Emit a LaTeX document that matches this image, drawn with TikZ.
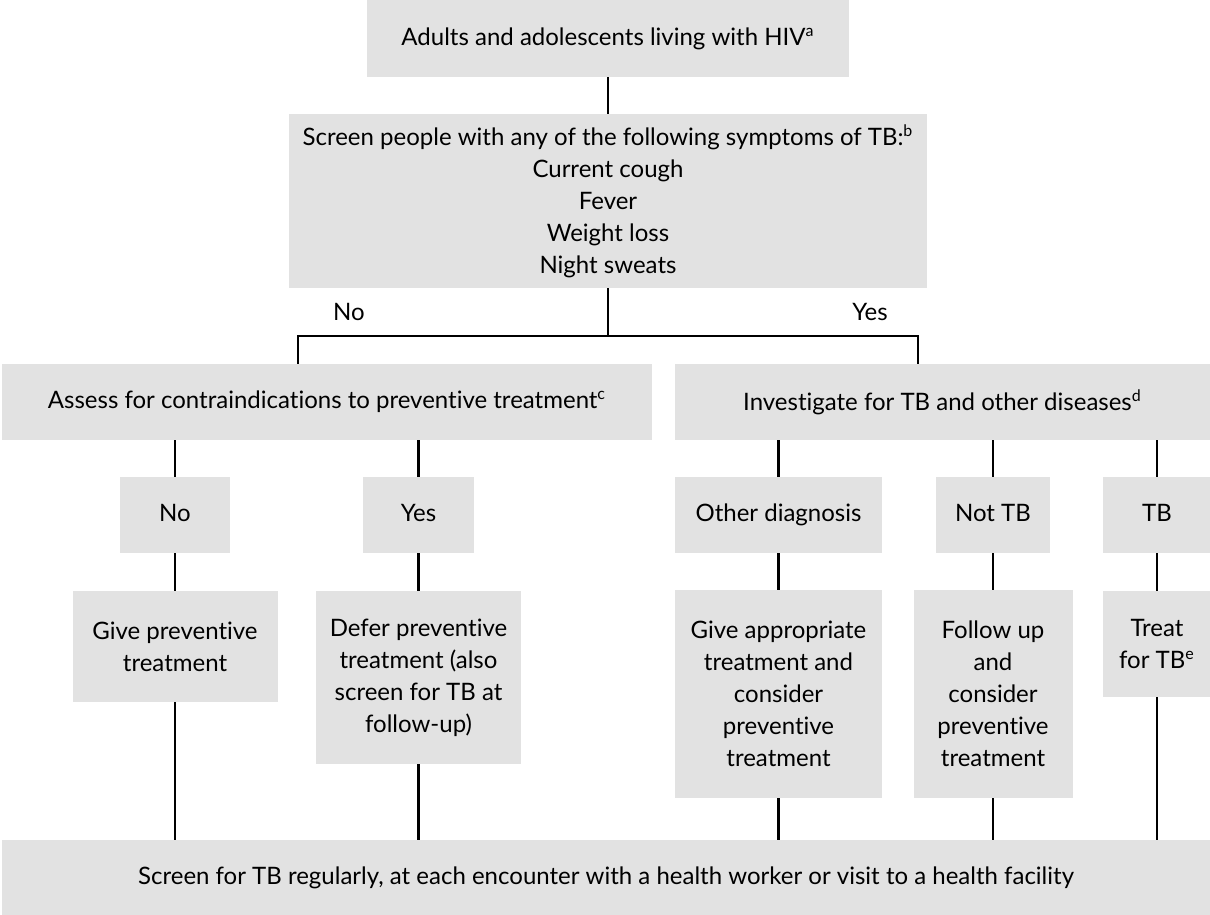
\documentclass[tikz,border=0pt]{standalone}
\usepackage{fontspec}
\setmainfont{Lato}[Ligatures=NoCommon]
\definecolor{boxgray}{RGB}{226,226,226}
\newcommand\bx[6]{\node[box, minimum width=#4*0.5pt, minimum height=#5*0.5pt] (#1) at (#2,#3) {#6};}
\newcommand\linestrut{\vphantom{Ng}}
\begin{document}
\begin{tikzpicture}[x=0.5pt,y=-0.5pt,
  box/.style={fill=boxgray, inner sep=0pt, align=center, text=black,
    font=\fontsize{12pt}{16pt}\selectfont},
  lbl/.style={inner sep=0pt, font=\fontsize{12pt}{16pt}\selectfont},
  conn/.style={draw=black, line width=1.1pt}]
\useasboundingbox (0,0) rectangle (1210,915);
% boxes
\bx{top}{608}{38.5}{482}{77}{\linestrut Adults and adolescents living with HIV\textsuperscript{a}}
\bx{screen}{608}{201}{638}{174}{Screen people with any of the following symptoms of TB:\textsuperscript{b}\\Current cough\\Fever\\Weight loss\\Night sweats}
\bx{assess}{327}{402}{650}{76}{\linestrut Assess for contraindications to preventive treatment\textsuperscript{c}}
\bx{inv}{942.5}{402}{535}{76}{\linestrut Investigate for TB and other diseases\textsuperscript{d}}
\bx{nobox}{175}{515}{110}{76}{\linestrut No}
\bx{yesbox}{418.5}{515}{111}{76}{\linestrut Yes}
\bx{other}{778.5}{515}{207}{76}{\linestrut Other diagnosis}
\bx{nottb}{993}{515}{114}{76}{\linestrut Not TB}
\bx{tb}{1157}{515}{108}{76}{\linestrut TB}
\bx{give}{175}{646.5}{205}{111}{Give preventive\\treatment}
\bx{defer}{418.5}{677.5}{205}{173}{Defer preventive\\treatment (also\\screen for TB at\\follow-up)}
\bx{appr}{778.5}{694}{207}{208}{Give appropriate\\treatment and\\consider\\preventive\\treatment}
\bx{follow}{993}{694}{159}{208}{Follow up\\and\\consider\\preventive\\treatment}
\bx{treat}{1157}{644}{108}{106}{Treat\\for TB\textsuperscript{e}}
\bx{bottom}{606}{877.5}{1208}{75}{\linestrut Screen for TB regularly, at each encounter with a health worker or visit to a health facility}
% labels
\node[lbl] (lno) at (349,314) {\linestrut No};
\node[lbl] (lyes) at (870,314) {\linestrut Yes};
% junction
\coordinate (jc) at (608,336);
\coordinate (jl) at (298,336);
\coordinate (jr) at (918,336);
% connectors
\draw[conn] (top.south) -- (screen.north);
\draw[conn] (screen.south) -- (jc);
\draw[conn] (jl |- assess.north) -- (jl) -- (jr) -- (jr |- inv.north);
\foreach \n in {nobox,yesbox}{\draw[conn] (assess.south -| \n) -- (\n.north);}
\foreach \n in {other,nottb,tb}{\draw[conn] (inv.south -| \n) -- (\n.north);}
\draw[conn] (nobox.south) -- (give.north);
\draw[conn] (yesbox.south) -- (defer.north);
\draw[conn] (other.south) -- (appr.north);
\draw[conn] (nottb.south) -- (follow.north);
\draw[conn] (tb.south) -- (treat.north);
\foreach \n in {give,defer,appr,follow,treat}{\draw[conn] (\n.south) -- (\n.south |- bottom.north);}
\end{tikzpicture}
\end{document}
